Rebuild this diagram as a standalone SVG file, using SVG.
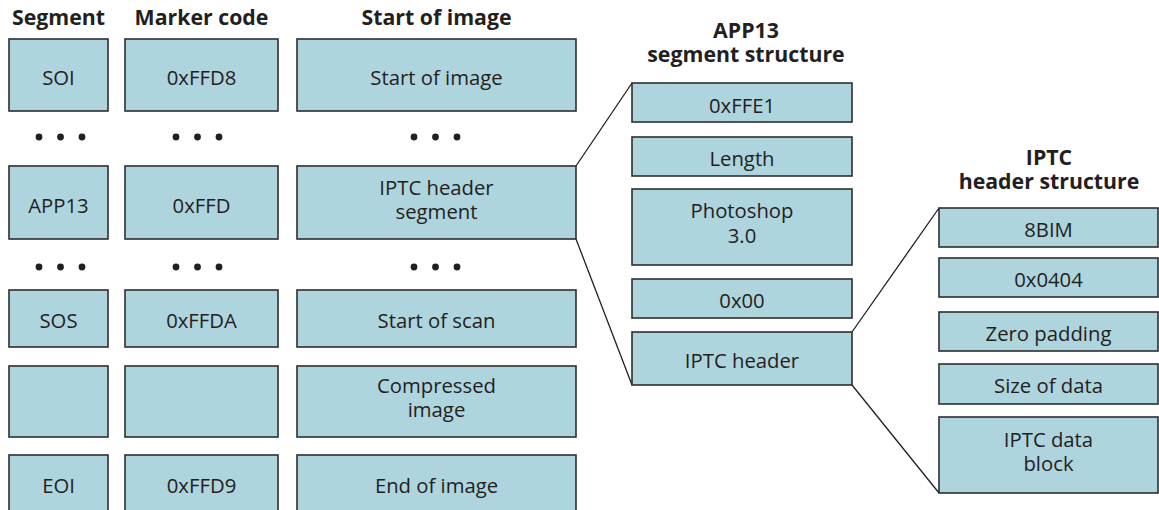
<svg xmlns="http://www.w3.org/2000/svg" width="1159" height="510" viewBox="0 0 1159 510">
<style>
.box{fill:#aed4de;stroke:#2e2e2e;stroke-width:1.6}
.t{font-family:"Open Sans","Noto Sans",sans-serif;font-size:20.3px;fill:#231f20;text-anchor:middle}
.h{font-family:"Open Sans","Noto Sans",sans-serif;font-size:21.3px;font-weight:bold;fill:#231f20;text-anchor:middle}
.dot{fill:#231f20}
.ln{stroke:#231f20;stroke-width:1.3;fill:none}
</style>
<rect width="1159" height="510" fill="#ffffff"/>
<g id="headers">
<text class="h" x="58.5" y="25">Segment</text>
<text class="h" x="201.5" y="25">Marker code</text>
<text class="h" x="436.5" y="25">Start of image</text>
<text class="h" x="746" y="38">APP13</text>
<text class="h" x="746" y="62">segment structure</text>
<text class="h" x="1049" y="165">IPTC</text>
<text class="h" x="1049" y="189">header structure</text>
</g>
<g id="connectors">
<line class="ln" x1="576" y1="166" x2="632" y2="83"/>
<line class="ln" x1="576" y1="239" x2="632" y2="385"/>
<line class="ln" x1="852" y1="332" x2="939" y2="208"/>
<line class="ln" x1="852" y1="385" x2="939" y2="493"/>
</g>
<g id="dots">
<circle class="dot" cx="39" cy="137" r="3.4"/><circle class="dot" cx="60.5" cy="137" r="3.4"/><circle class="dot" cx="82" cy="137" r="3.4"/>
<circle class="dot" cx="176" cy="137" r="3.4"/><circle class="dot" cx="197.5" cy="137" r="3.4"/><circle class="dot" cx="219" cy="137" r="3.4"/>
<circle class="dot" cx="414" cy="137" r="3.4"/><circle class="dot" cx="435.5" cy="137" r="3.4"/><circle class="dot" cx="457" cy="137" r="3.4"/>
<circle class="dot" cx="39" cy="267" r="3.4"/><circle class="dot" cx="60.5" cy="267" r="3.4"/><circle class="dot" cx="82" cy="267" r="3.4"/>
<circle class="dot" cx="176" cy="267" r="3.4"/><circle class="dot" cx="197.5" cy="267" r="3.4"/><circle class="dot" cx="219" cy="267" r="3.4"/>
<circle class="dot" cx="414" cy="267" r="3.4"/><circle class="dot" cx="435.5" cy="267" r="3.4"/><circle class="dot" cx="457" cy="267" r="3.4"/>
</g>
<g id="soi"><rect class="box" x="9" y="39" width="99" height="72"/><text class="t" x="58.5" y="85">SOI</text></g>
<g id="soi-code"><rect class="box" x="125" y="39" width="153" height="72"/><text class="t" x="201.5" y="85">0xFFD8</text></g>
<g id="soi-desc"><rect class="box" x="297" y="39" width="279" height="72"/><text class="t" x="436.5" y="85">Start of image</text></g>
<g id="app13"><rect class="box" x="9" y="166" width="99" height="73"/><text class="t" x="58.5" y="213">APP13</text></g>
<g id="app13-code"><rect class="box" x="125" y="166" width="153" height="73"/><text class="t" x="201.5" y="213">0xFFD</text></g>
<g id="app13-desc"><rect class="box" x="297" y="166" width="279" height="73"/><text class="t" x="436.5" y="195">IPTC header</text><text class="t" x="436.5" y="219">segment</text></g>
<g id="sos"><rect class="box" x="9" y="290" width="99" height="57"/><text class="t" x="58.5" y="328">SOS</text></g>
<g id="sos-code"><rect class="box" x="125" y="290" width="153" height="57"/><text class="t" x="201.5" y="328">0xFFDA</text></g>
<g id="sos-desc"><rect class="box" x="297" y="290" width="279" height="57"/><text class="t" x="436.5" y="328">Start of scan</text></g>
<g id="comp"><rect class="box" x="9" y="366" width="99" height="71"/></g>
<g id="comp-code"><rect class="box" x="125" y="366" width="153" height="71"/></g>
<g id="comp-desc"><rect class="box" x="297" y="366" width="279" height="71"/><text class="t" x="436.5" y="393">Compressed</text><text class="t" x="436.5" y="417">image</text></g>
<g id="eoi"><rect class="box" x="9" y="455" width="99" height="60"/><text class="t" x="58.5" y="493">EOI</text></g>
<g id="eoi-code"><rect class="box" x="125" y="455" width="153" height="60"/><text class="t" x="201.5" y="493">0xFFD9</text></g>
<g id="eoi-desc"><rect class="box" x="297" y="455" width="279" height="60"/><text class="t" x="436.5" y="493">End of image</text></g>
<g id="a-ffe1"><rect class="box" x="632" y="83" width="220" height="39"/><text class="t" x="742" y="113">0xFFE1</text></g>
<g id="a-length"><rect class="box" x="632" y="137" width="220" height="39"/><text class="t" x="742" y="166">Length</text></g>
<g id="a-photoshop"><rect class="box" x="632" y="189" width="220" height="76"/><text class="t" x="742" y="218">Photoshop</text><text class="t" x="742" y="243">3.0</text></g>
<g id="a-00"><rect class="box" x="632" y="279" width="220" height="39"/><text class="t" x="742" y="308">0x00</text></g>
<g id="a-iptc"><rect class="box" x="632" y="332" width="220" height="53"/><text class="t" x="742" y="368">IPTC header</text></g>
<g id="i-8bim"><rect class="box" x="939" y="208" width="219" height="39"/><text class="t" x="1048.5" y="237">8BIM</text></g>
<g id="i-0404"><rect class="box" x="939" y="258" width="219" height="39"/><text class="t" x="1048.5" y="287">0x0404</text></g>
<g id="i-zero"><rect class="box" x="939" y="312" width="219" height="39"/><text class="t" x="1048.5" y="341">Zero padding</text></g>
<g id="i-size"><rect class="box" x="939" y="364" width="219" height="40"/><text class="t" x="1048.5" y="393">Size of data</text></g>
<g id="i-data"><rect class="box" x="939" y="417" width="219" height="76"/><text class="t" x="1048.5" y="447">IPTC data</text><text class="t" x="1048.5" y="471">block</text></g>
</svg>
